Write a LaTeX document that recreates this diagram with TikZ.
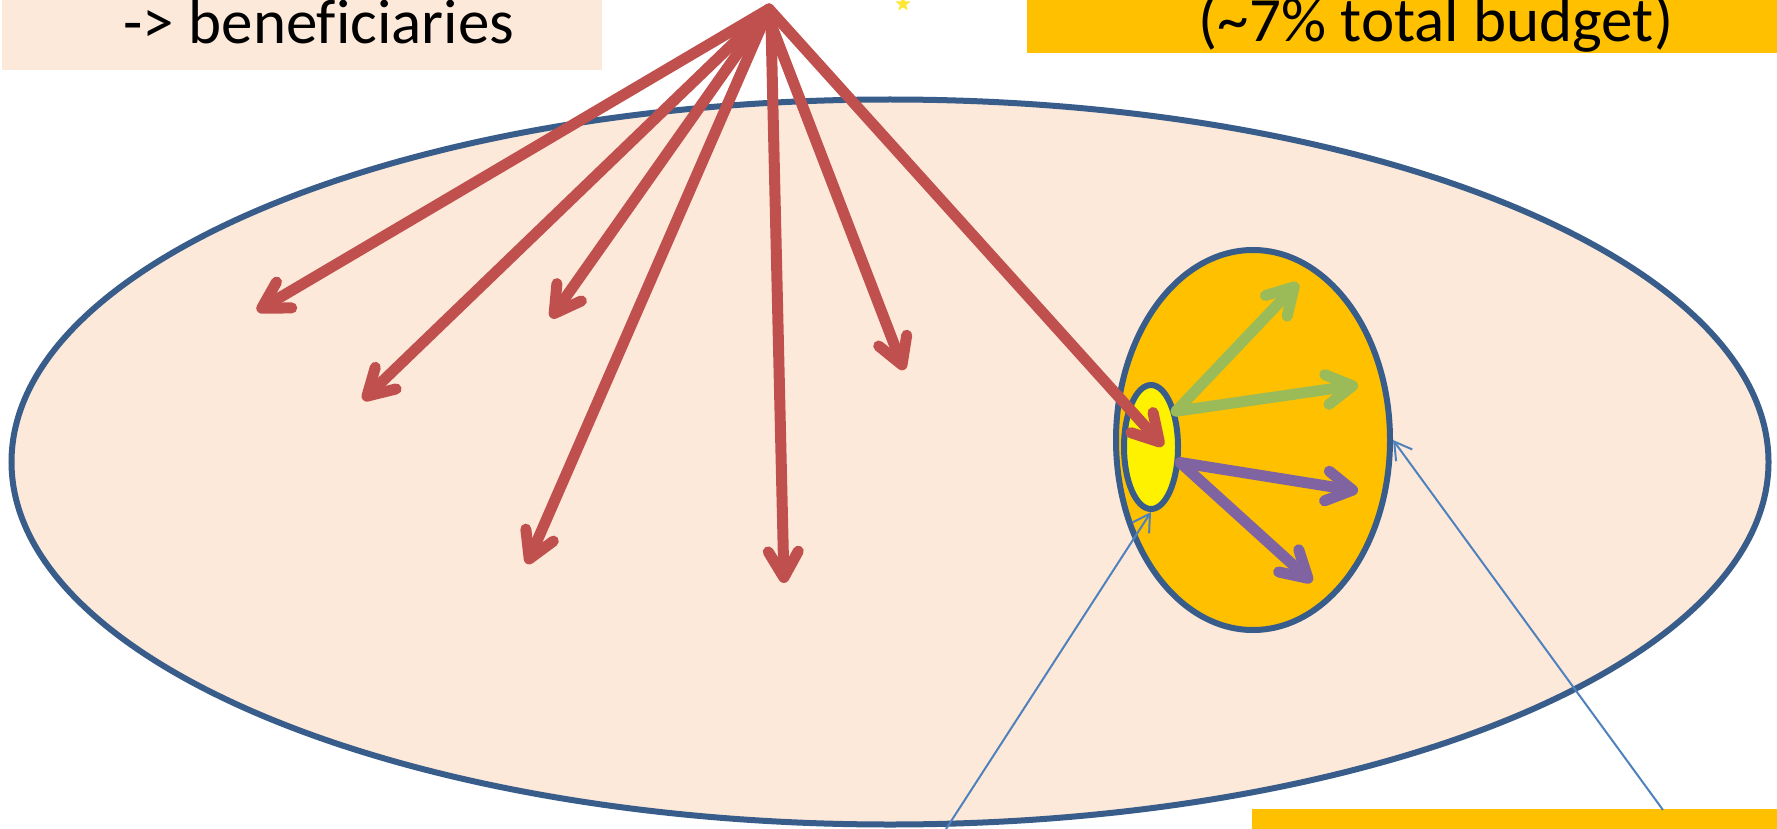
\documentclass[tikz,border=0pt]{standalone}
\usepackage{fontspec}
\setmainfont{Carlito}[Ligatures=NoCommon]
\usetikzlibrary{shapes.geometric,arrows.meta}
\definecolor{peach}{HTML}{FDE9D9}
\definecolor{gold}{HTML}{FFC000}
\definecolor{rim}{HTML}{385D8A}
\definecolor{redarr}{HTML}{C0504D}
\definecolor{greenarr}{HTML}{9BBB59}
\definecolor{purplearr}{HTML}{8064A2}
\definecolor{callout}{HTML}{4F81BD}
\begin{document}
\begin{tikzpicture}[x=1pt,y=-1pt,
  bigfont/.style={font=\fontsize{63}{70}\selectfont},
  blob/.style={ellipse, draw=rim, line width=6pt, inner sep=0pt},
  banner/.style={rectangle, inner sep=0pt, anchor=north west},
  fatarrow/.style={line width=11pt, line cap=round, line join=round,
    -{Straight Barb[length=26pt, width=30pt, line cap=round, line join=round]},
    preaction={draw=black, draw opacity=0.18, transform canvas={shift={(2pt,-3pt)}}}},
  thinarrow/.style={draw=callout, line width=2pt,
    -{Straight Barb[length=17pt, width=20pt]}}]
\useasboundingbox (0,0) rectangle (1777,829);
\fill[white] (0,0) rectangle (1777,829);

% top banners
\node[banner, fill=peach, minimum width=600, minimum height=70] (boxL) at (2,0) {};
\node[bigfont, anchor=base] (txtL) at (319,44) {->{} beneficiaries};
\node[banner, fill=gold, minimum width=750, minimum height=53] (boxR) at (1027,0) {};
\node[bigfont, anchor=base] (txtR) at (1436,42) {(\textasciitilde7\% total budget)};
\node[star, star points=5, star point ratio=2.4, fill=yellow!85!orange, opacity=0.8, inner sep=0pt, minimum size=16] (star) at (903,4) {};

% ellipses
\node[blob, fill=peach, minimum width=1757, minimum height=725] (big) at (890,462) {};
\node[blob, fill=gold, minimum width=274, minimum height=380] (mid) at (1253,440) {};
\node[blob, fill=yellow, minimum width=54, minimum height=124] (yel) at (1151,447) {};

% coordinates
\coordinate (apex) at (769,9);
\coordinate (apexb) at (771,24);
\coordinate (r1) at (257,311);
\coordinate (r2) at (363,400);
\coordinate (r3) at (551,318);
\coordinate (r4) at (527,564);
\coordinate (r5) at (784,583);
\coordinate (r6) at (904,370);
\coordinate (r7) at (1163,446);
\coordinate (g1) at (1298,283);
\coordinate (g2) at (1358,385);
\coordinate (p1) at (1358,491);
\coordinate (p2) at (1312,582);
\coordinate (c1) at (946,829);
\coordinate (c2) at (1663,810);

% red arrows
\draw[fatarrow, redarr] (apex) -- (r1);
\draw[fatarrow, redarr] (apex) -- (r2);
\draw[fatarrow, redarr] (apex) -- (r3);
\draw[fatarrow, redarr] (apex) -- (r4);
\draw[fatarrow, redarr] (apexb) -- (r5);
\draw[fatarrow, redarr] (apexb) -- (r6);
\draw[fatarrow, redarr] (apex) -- (r7);

% green and purple arrows
\draw[fatarrow, greenarr] (yel.55) -- (g1);
\draw[fatarrow, greenarr] (yel.55) -- (g2);
\draw[fatarrow, purplearr] (yel.-28) -- (p1);
\draw[fatarrow, purplearr] (yel.-28) -- (p2);

% bottom banner
\node[banner, fill=gold, minimum width=525, minimum height=20] (boxB) at (1252,809) {};

% callout lines
\draw[thinarrow] (c1) -- (yel.south);
\draw[thinarrow] (c2) -- (mid.east);
\end{tikzpicture}
\end{document}
